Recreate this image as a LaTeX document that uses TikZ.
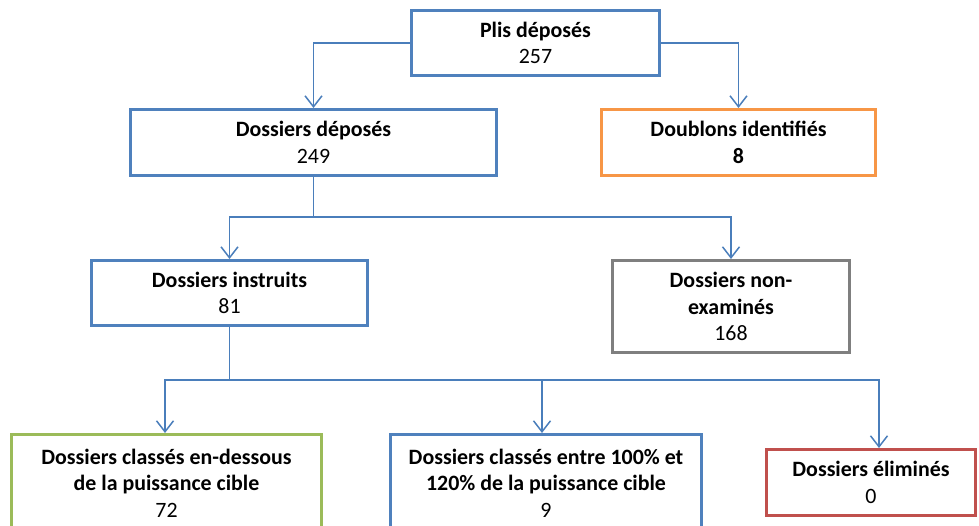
\documentclass[tikz,border=0pt]{standalone}
\usepackage{fontspec}
\setmainfont{Carlito}
\usepackage{tikz}
\usetikzlibrary{arrows.meta}

\definecolor{boxblue}{HTML}{4F81BD}
\definecolor{lineblue}{HTML}{4A7EBB}
\definecolor{boxorange}{HTML}{F79646}
\definecolor{boxgrey}{HTML}{7F7F7F}
\definecolor{boxgreen}{HTML}{9BBB59}
\definecolor{boxred}{HTML}{C0504D}

\tikzset{
  box/.style={draw, line width=3pt, fill=white, align=center, inner sep=0pt,
    font=\fontsize{21.9}{26.5}\selectfont},
  link/.style={draw=lineblue, line width=1.5pt,
    -{Straight Barb[length=11pt,width=17pt,line width=1.5pt]}},
}

\begin{document}
\begin{tikzpicture}[x=1pt,y=-1pt]
  \useasboundingbox (0,0) rectangle (979,526);
  \clip (0,0) rectangle (979,526);

  %Nodes
  \node[box, draw=boxblue, minimum width=248pt, minimum height=65pt]
    (plis) at (535.5,43) {\textbf{Plis déposés}\\257};
  \node[box, draw=boxblue, minimum width=366pt, minimum height=66pt]
    (deposes) at (313.5,142.5) {\textbf{Dossiers déposés}\\249};
  \node[box, draw=boxorange, minimum width=274pt, minimum height=66pt]
    (doublons) at (738.5,142.5) {\textbf{Doublons identifiés}\\\textbf{8}};
  \node[box, draw=boxblue, minimum width=276pt, minimum height=65pt]
    (instruits) at (229.5,293) {\textbf{Dossiers instruits}\\81};
  \node[box, draw=boxgrey, minimum width=237pt, minimum height=92pt]
    (nonexam) at (731,306.5) {\textbf{Dossiers non-}\\\textbf{examinés}\\168};
  \node[box, draw=boxgreen, minimum width=310pt, minimum height=97pt]
    (dessous) at (166.5,483) {\textbf{Dossiers classés en-dessous}\\\textbf{de la puissance cible}\\72};
  \node[box, draw=boxblue, minimum width=311pt, minimum height=97pt]
    (entre) at (546,483) {\textbf{Dossiers classés entre 100\% et}\\\textbf{120\% de la puissance cible}\\9};
  \node[box, draw=boxred, minimum width=209pt, minimum height=66pt]
    (elimines) at (871,482.5) {\textbf{Dossiers éliminés}\\0};

  \coordinate (split1) at (313.5,217);
  \coordinate (split2) at (229.5,380);

  %Lines
  \draw[link] (plis.west) -| (deposes.north);
  \draw[link] (plis.east) -| (doublons.north);
  \draw[line width=1.5pt, lineblue] (deposes.south) -- (split1);
  \draw[link] (split1) -| (instruits.north);
  \draw[link] (split1) -| (nonexam.north);
  \draw[line width=1.5pt, lineblue] (instruits.south) -- (split2);
  \draw[link] (split2) -| ([xshift=-1.5pt]dessous.north);
  \draw[link] (split2) -| ([xshift=-4pt]entre.north);
  \draw[link] (split2) -| ([xshift=8pt]elimines.north);
\end{tikzpicture}
\end{document}
